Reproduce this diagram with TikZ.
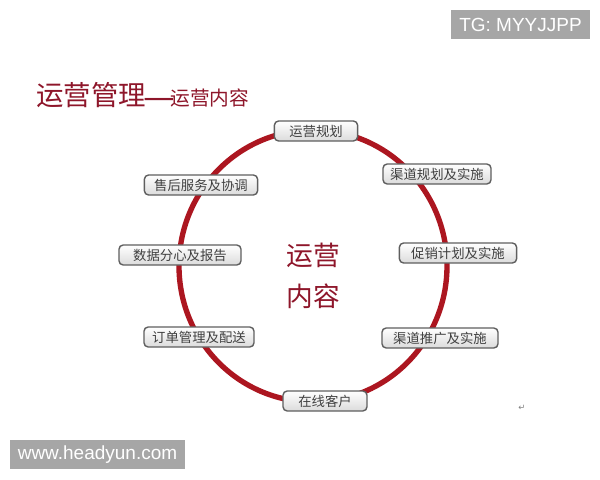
\documentclass[tikz,border=0pt]{standalone}
\usepackage{fontspec}
\setmainfont{Liberation Sans}
\newfontfamily\cjk{Noto Sans CJK SC}
\newfontfamily\symfont{DejaVu Sans}
\usetikzlibrary{positioning}
\definecolor{ringred}{RGB}{172,22,32}
\definecolor{titlered}{RGB}{142,22,42}
\definecolor{boxline}{RGB}{95,95,95}
\definecolor{markgray}{RGB}{166,166,166}

\begin{document}
\begin{tikzpicture}[x=0.025cm,y=-0.025cm,
    item/.style={draw=boxline, line width=1pt, rounded corners=3pt,
      top color=white, bottom color=gray!28, minimum height=0.5cm,
      inner sep=0pt, font=\cjk\fontsize{9.5}{10}\selectfont, text=black!75},
    tagbox/.style={fill=markgray, text=white, minimum height=0.73cm,
      inner sep=0pt, font=\fontsize{13.5}{14}\selectfont}]
    \useasboundingbox (0,0) rectangle (600,480);

    % Title
    \node[anchor=west, text=titlered, inner sep=0pt] (title) at (36,96)
      {\cjk{\fontsize{19.5}{20}\selectfont 运营管理}{\fontsize{14}{14}\selectfont \kern-2pt\raisebox{-2.8pt}{\scalebox{1.8}[1.8]{—}}\kern-3pt运营内容}};

    % Ring
    \draw[ringred, line width=3.8pt] (313,266) ellipse (134 and 136);

    % Centre text
    \node[text=titlered, font=\cjk\fontsize{19}{19}\selectfont, inner sep=0pt] (hub1) at (313,255) {运营};
    \node[text=titlered, font=\cjk\fontsize{19}{19}\selectfont, inner sep=0pt, below=0.4cm of hub1] (hub2) {内容};

    % Items on the ring
    \node[item, minimum width=2.08cm] (plan)    at (316,131) {运营规划};
    \node[item, minimum width=2.7cm]  (channel) at (437,174) {渠道规划及实施};
    \node[item, minimum width=2.93cm] (promo)   at (458,253) {促销计划及实施};
    \node[item, minimum width=2.9cm]  (spread)  at (440,338) {渠道推广及实施};
    \node[item, minimum width=2.1cm]  (client)  at (325,401) {在线客户};
    \node[item, minimum width=2.75cm] (order)   at (199,337) {订单管理及配送};
    \node[item, minimum width=3.05cm] (data)    at (180,255) {数据分心及报告};
    \node[item, minimum width=2.83cm] (service) at (201,185) {售后服务及协调};

    % Marks
    \node[text=gray, font=\symfont\fontsize{6}{6}\selectfont, inner sep=0pt] (ret) at (522,408) {↵};
    \node[tagbox, minimum width=3.48cm] (tg)  at (520.5,24.5) {TG: MYYJJPP};
    \node[tagbox, minimum width=4.38cm] (web) at (97.5,454.5) {www.headyun.com};
\end{tikzpicture}
\end{document}
